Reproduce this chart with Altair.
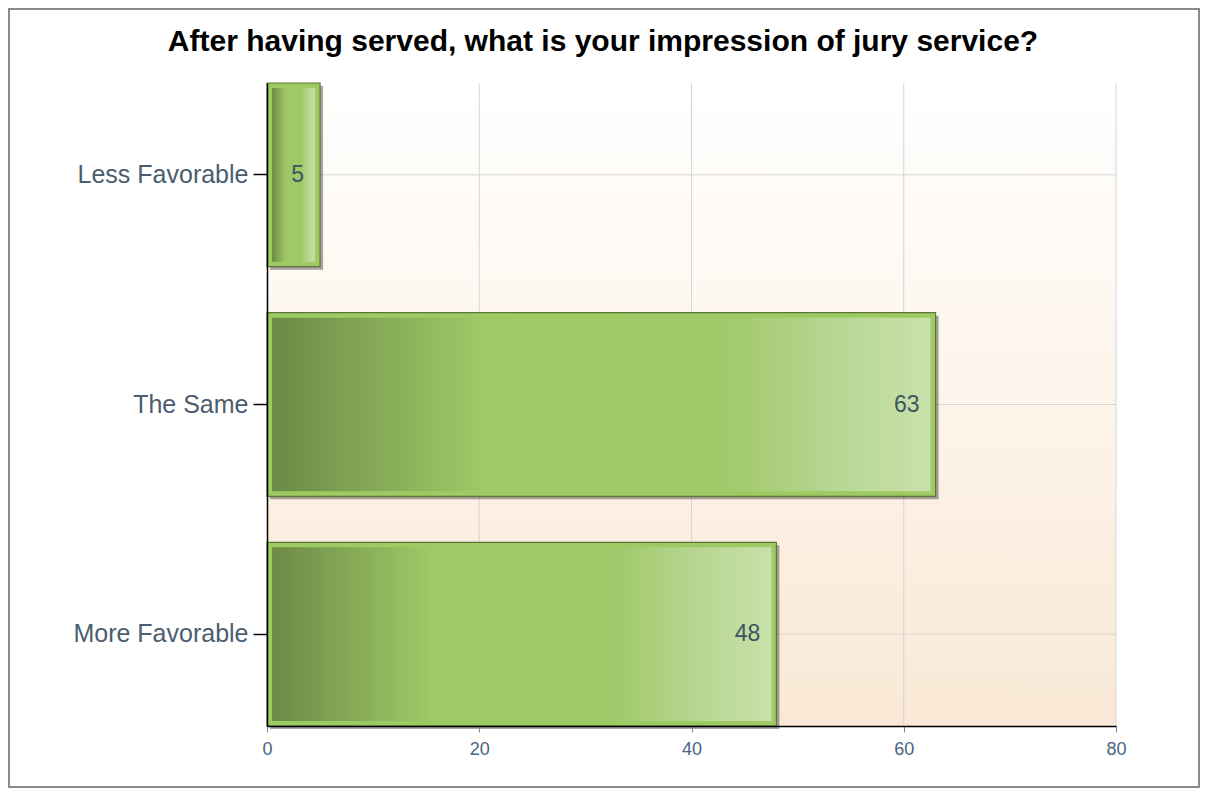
import altair as alt
import pandas as pd

categories = ["Less Favorable", "The Same", "More Favorable"]
counts = [5, 63, 48]
x_ticks = [0, 20, 40, 60, 80]
grid_x = [20, 40, 60, 80]
title_text = ["After having served, what is your impression of jury service?"]

W, H = 849, 643
PAD_L, PAD_T, PAD_R, PAD_B = 259, 75, 84, 62
FONT = "Liberation Sans"

df = pd.DataFrame({"category": categories, "count": counts, "start": [0] * len(counts)})
grid_df = pd.DataFrame({"gx": grid_x})
title_df = pd.DataFrame({"t": title_text})

y_scale = alt.Scale(domain=categories, paddingInner=0.2, paddingOuter=0)
x_scale = alt.Scale(domain=[0, 80], nice=False)

y_enc = alt.Y("category:N", sort=categories, scale=y_scale,
              axis=alt.Axis(title=None, grid=False, labelFontSize=25, labelColor="#4b5d6e",
                            labelFont=FONT, tickColor="#000000", tickSize=14, tickWidth=1.5,
                            domainColor="#000000", domainWidth=1.5, labelPadding=5, zindex=2))
x_enc = alt.X("count:Q", scale=x_scale,
              axis=alt.Axis(title=None, grid=False, values=x_ticks, labelFontSize=18,
                            labelColor="#4a6580", labelFont=FONT, tickColor="#888888",
                            tickSize=6, domainColor="#000000", domainWidth=1.5,
                            labelPadding=8, labelFlush=False, zindex=2))

bg = alt.Chart(df).mark_rect(
    fill=alt.Gradient(gradient="linear", x1=0, y1=0, x2=0, y2=1,
                      stops=[alt.GradientStop(offset=0, color="#ffffff"),
                             alt.GradientStop(offset=0.45, color="#fdf5ec"),
                             alt.GradientStop(offset=1, color="#f9e8d5")])
).encode(x=alt.value(0), x2=alt.value(W), y=alt.value(0), y2=alt.value(H))

border = alt.Chart(df).mark_rect(fill=None, stroke="#8a8a8a", strokeWidth=2).encode(
    x=alt.value(-PAD_L + 1), x2=alt.value(W + PAD_R - 1),
    y=alt.value(-PAD_T + 1), y2=alt.value(H + PAD_B - 1))

title = alt.Chart(title_df).mark_text(
    align="center", baseline="alphabetic", fontSize=30, fontWeight="bold",
    font=FONT, color="#000000"
).encode(x=alt.value(603 - 267), y=alt.value(51 - 83), text="t:N")

vgrid = alt.Chart(grid_df).mark_rule(color="#d6d6d6", strokeWidth=1).encode(
    x=alt.X("gx:Q", scale=x_scale))
hgrid = alt.Chart(df).mark_rule(color="#d6d6d6", strokeWidth=1).encode(
    y=alt.Y("category:N", sort=categories, scale=y_scale))

shadow = alt.Chart(df).mark_bar(fill="#000000", opacity=0.35, xOffset=3, x2Offset=3, yOffset=3).encode(
    y=alt.Y("category:N", sort=categories, scale=y_scale),
    x=alt.X("count:Q", scale=x_scale), x2="start:Q")

outer = alt.Chart(df).mark_bar(fill="#9dca62", stroke="#5b7538", strokeWidth=1.2).encode(
    y=y_enc, x=x_enc, x2="start:Q")

inner = alt.Chart(df).mark_bar(
    height=alt.RelativeBandSize(band=(183.7 - 10) / 183.7),
    xOffset=-5, x2Offset=5,
    fill=alt.Gradient(gradient="linear", x1=0, y1=0, x2=1, y2=0,
                      stops=[alt.GradientStop(offset=0, color="#6b8a45"),
                             alt.GradientStop(offset=0.15, color="#84a857"),
                             alt.GradientStop(offset=0.32, color="#9fc866"),
                             alt.GradientStop(offset=0.68, color="#a0c868"),
                             alt.GradientStop(offset=0.85, color="#b6d691"),
                             alt.GradientStop(offset=1, color="#c8e1aa")])
).encode(y=alt.Y("category:N", sort=categories, scale=y_scale),
         x=alt.X("count:Q", scale=x_scale), x2="start:Q")

labels = alt.Chart(df).mark_text(align="right", baseline="middle", dx=-16, fontSize=23,
                                 font=FONT, color="#3c5560").encode(
    y=alt.Y("category:N", sort=categories, scale=y_scale),
    x=alt.X("count:Q", scale=x_scale), text="count:Q")

chart = alt.layer(bg, vgrid, hgrid, shadow, outer, inner, labels, title, border).properties(
    width=W, height=H,
    padding={"left": PAD_L, "top": PAD_T, "right": PAD_R, "bottom": PAD_B},
    autosize=alt.AutoSizeParams(type="none"),
    background="#ffffff",
).configure_view(stroke=None)

chart.save("out.html", embed_options={"renderer": "svg", "actions": False})
